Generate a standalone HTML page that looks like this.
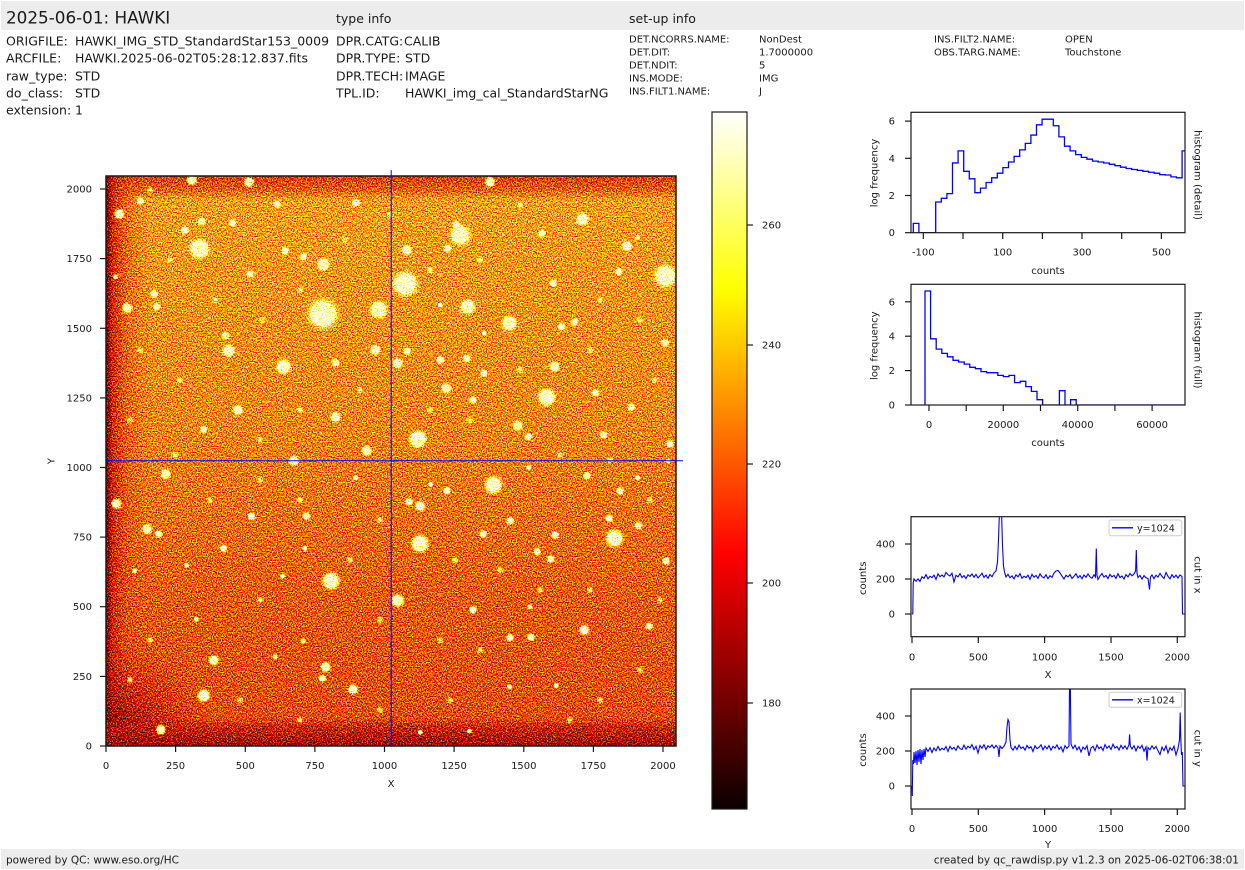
<!DOCTYPE html>
<html><head><meta charset="utf-8"><style>
html,body{margin:0;padding:0;background:#fff;}
svg{display:block;}
text{font-family:"DejaVu Sans","Liberation Sans",sans-serif;fill:#1a1a1a;}
.t{font-size:10px;}
.i{font-size:12.5px;}
.s{font-size:10px;}
.f{font-size:10.5px;}
</style></head><body>
<svg width="1245" height="870" viewBox="0 0 1245 870" xmlns="http://www.w3.org/2000/svg">
<defs>
<filter id="hot" x="106" y="176" width="570" height="570" filterUnits="userSpaceOnUse" color-interpolation-filters="sRGB">
<feTurbulence type="fractalNoise" baseFrequency="0.8" numOctaves="2" seed="7" result="n"/>
<feColorMatrix in="n" type="matrix" values="1 0 0 0 0  1 0 0 0 0  1 0 0 0 0  0 0 0 0 1" result="ng"/>
<feComposite in="SourceGraphic" in2="ng" operator="arithmetic" k1="0" k2="1" k3="1.5" k4="-0.75" result="c"/>
<feComponentTransfer in="c">
<feFuncR type="table" tableValues="0 .137 .274 .411 .548 .685 .822 .959 1 1 1 1 1 1 1 1 1 1 1 1 1"/>
<feFuncG type="table" tableValues="0 0 0 0 0 0 0 0 .092 .223 .354 .486 .617 .748 .879 1 1 1 1 1 1"/>
<feFuncB type="table" tableValues="0 0 0 0 0 0 0 0 0 0 0 0 0 0 0 .016 .213 .409 .606 .803 1"/>
<feFuncA type="linear" slope="0" intercept="1"/>
</feComponentTransfer>
</filter>
<linearGradient id="vg" x1="0" y1="0" x2="0" y2="1">
<stop offset="0" stop-color="#9f9f9f"/><stop offset="0.45" stop-color="#909090"/><stop offset="0.75" stop-color="#7a7a7a"/><stop offset="1" stop-color="#717171"/>
</linearGradient>
<linearGradient id="lg" x1="0" y1="0" x2="1" y2="0">
<stop offset="0" stop-color="#262626" stop-opacity="1"/><stop offset="0.15" stop-color="#555" stop-opacity="0.9"/><stop offset="0.5" stop-color="#707070" stop-opacity="0.5"/><stop offset="1" stop-color="#777" stop-opacity="0"/>
</linearGradient>
<radialGradient id="bl" cx="106" cy="746" r="115" gradientUnits="userSpaceOnUse">
<stop offset="0" stop-color="#1a1a1a" stop-opacity="1"/><stop offset="0.45" stop-color="#404040" stop-opacity="0.6"/><stop offset="1" stop-color="#606060" stop-opacity="0"/>
</radialGradient>
<linearGradient id="bb" x1="0" y1="0" x2="0" y2="1">
<stop offset="0" stop-color="#505050" stop-opacity="0"/><stop offset="0.35" stop-color="#505050" stop-opacity="0.8"/><stop offset="1" stop-color="#3a3a3a" stop-opacity="1"/>
</linearGradient>
<linearGradient id="tb" x1="0" y1="0" x2="0" y2="1">
<stop offset="0" stop-color="#686868" stop-opacity="1"/><stop offset="0.6" stop-color="#6e6e6e" stop-opacity="0.7"/><stop offset="1" stop-color="#777" stop-opacity="0"/>
</linearGradient>
<radialGradient id="sg">
<stop offset="0" stop-color="#fff"/><stop offset="0.6" stop-color="#fff"/><stop offset="0.8" stop-color="#fff" stop-opacity="0.35"/><stop offset="1" stop-color="#fff" stop-opacity="0"/>
</radialGradient>
<radialGradient id="sf">
<stop offset="0" stop-color="#fff" stop-opacity="0.8"/><stop offset="0.5" stop-color="#fff" stop-opacity="0.5"/><stop offset="1" stop-color="#fff" stop-opacity="0"/>
</radialGradient>
<linearGradient id="cb" x1="0" y1="0" x2="0" y2="1">
<stop offset="0" stop-color="#ffffff"/><stop offset="0.254" stop-color="#ffff00"/><stop offset="0.635" stop-color="#ff0000"/><stop offset="1" stop-color="#0b0000"/>
</linearGradient>
<clipPath id="c1"><rect x="911" y="112.3" width="274" height="120.4"/></clipPath>
<clipPath id="c2"><rect x="911" y="284.3" width="274" height="120.7"/></clipPath>
<clipPath id="c3"><rect x="911" y="516.7" width="274" height="120"/></clipPath>
<clipPath id="c4"><rect x="911" y="689" width="274" height="120"/></clipPath>
</defs>

<!-- header -->
<rect x="1" y="1" width="1243" height="29" fill="#ececec"/>
<text x="6" y="23.5" style="font-size:16.8px">2025-06-01: HAWKI</text>
<text class="i" x="336" y="23">type info</text>
<text class="i" x="629" y="23">set-up info</text>

<text class="i" x="6" y="45.5">ORIGFILE:</text><text class="i" x="75" y="45.5">HAWKI_IMG_STD_StandardStar153_0009</text>
<text class="i" x="6" y="62.5">ARCFILE:</text><text class="i" x="75" y="62.5">HAWKI.2025-06-02T05:28:12.837.fits</text>
<text class="i" x="6" y="80.5">raw_type:</text><text class="i" x="75" y="80.5">STD</text>
<text class="i" x="6" y="97.5">do_class:</text><text class="i" x="75" y="97.5">STD</text>
<text class="i" x="6" y="114.5">extension:</text><text class="i" x="75" y="114.5">1</text>

<text class="i" x="336" y="45.5">DPR.CATG:</text><text class="i" x="404" y="45.5">CALIB</text>
<text class="i" x="336" y="62.5">DPR.TYPE:</text><text class="i" x="405" y="62.5">STD</text>
<text class="i" x="336" y="80.5">DPR.TECH:</text><text class="i" x="405" y="80.5">IMAGE</text>
<text class="i" x="336" y="97.5">TPL.ID:</text><text class="i" x="405" y="97.5">HAWKI_img_cal_StandardStarNG</text>

<text class="s" x="629" y="42.5">DET.NCORRS.NAME:</text><text class="s" x="759" y="42.5">NonDest</text>
<text class="s" x="629" y="55.5">DET.DIT:</text><text class="s" x="759" y="55.5">1.7000000</text>
<text class="s" x="629" y="68.5">DET.NDIT:</text><text class="s" x="759" y="68.5">5</text>
<text class="s" x="629" y="81.5">INS.MODE:</text><text class="s" x="759" y="81.5">IMG</text>
<text class="s" x="629" y="94.5">INS.FILT1.NAME:</text><text class="s" x="759" y="94.5">J</text>
<text class="s" x="934" y="42.5">INS.FILT2.NAME:</text><text class="s" x="1065" y="42.5">OPEN</text>
<text class="s" x="934" y="55.5">OBS.TARG.NAME:</text><text class="s" x="1065" y="55.5">Touchstone</text>

<!-- main image -->
<g filter="url(#hot)">
<rect x="106" y="176" width="570" height="570" fill="url(#vg)"/>
<rect x="106" y="176" width="570" height="24" fill="url(#tb)"/>
<rect x="106" y="176" width="45" height="570" fill="url(#lg)"/>
<rect x="106" y="600" width="130" height="146" fill="url(#bl)"/>
<rect x="106" y="718" width="570" height="28" fill="url(#bb)"/>
<g fill="url(#sf)">
<circle cx="150" cy="190" r="4"/><circle cx="170" cy="260" r="4"/><circle cx="215" cy="300" r="4"/><circle cx="262" cy="320" r="4"/><circle cx="300" cy="290" r="4"/><circle cx="345" cy="240" r="4"/><circle cx="390" cy="215" r="4"/><circle cx="430" cy="270" r="4"/><circle cx="480" cy="260" r="4"/><circle cx="520" cy="205" r="4"/><circle cx="600" cy="300" r="4"/><circle cx="640" cy="320" r="4"/><circle cx="655" cy="380" r="4"/><circle cx="590" cy="350" r="4"/><circle cx="520" cy="370" r="4"/><circle cx="470" cy="420" r="4"/><circle cx="430" cy="410" r="4"/><circle cx="360" cy="390" r="4"/><circle cx="300" cy="410" r="4"/><circle cx="260" cy="440" r="4"/><circle cx="180" cy="380" r="4"/><circle cx="140" cy="350" r="4"/><circle cx="130" cy="420" r="4"/><circle cx="175" cy="455" r="4"/><circle cx="610" cy="460" r="4"/><circle cx="560" cy="455" r="4"/><circle cx="650" cy="500" r="4"/><circle cx="590" cy="590" r="4"/><circle cx="540" cy="590" r="4"/><circle cx="480" cy="650" r="4"/><circle cx="440" cy="640" r="4"/><circle cx="380" cy="620" r="4"/><circle cx="350" cy="560" r="4"/><circle cx="260" cy="600" r="4"/><circle cx="240" cy="700" r="4"/><circle cx="150" cy="640" r="4"/><circle cx="130" cy="680" r="4"/><circle cx="300" cy="720" r="4"/><circle cx="380" cy="710" r="4"/><circle cx="450" cy="700" r="4"/><circle cx="600" cy="700" r="4"/><circle cx="640" cy="670" r="4"/><circle cx="660" cy="600" r="4"/><circle cx="570" cy="720" r="4"/><circle cx="500" cy="570" r="4"/><circle cx="455" cy="560" r="4"/><circle cx="260" cy="480" r="4"/><circle cx="210" cy="500" r="4"/><circle cx="380" cy="520" r="4"/><circle cx="300" cy="500" r="4"/>
</g>
<g fill="url(#sg)">
<circle cx="322.8" cy="314" r="18"/><circle cx="405.2" cy="284" r="15"/><circle cx="665.3" cy="276" r="13.5"/><circle cx="460.4" cy="235.3" r="12"/><circle cx="199.6" cy="248.7" r="12"/><circle cx="378.7" cy="310" r="10.5"/><circle cx="467.5" cy="306.7" r="9"/><circle cx="509.3" cy="323.3" r="9"/><circle cx="546.6" cy="397.3" r="10.5"/><circle cx="417.9" cy="439.3" r="10.5"/><circle cx="283.6" cy="366.7" r="9"/><circle cx="582.5" cy="219.3" r="7.5"/><circle cx="626.9" cy="246" r="6"/><circle cx="119.4" cy="214" r="6"/><circle cx="323.5" cy="264.3" r="7.5"/><circle cx="407.1" cy="250" r="6"/><circle cx="228.7" cy="350.7" r="7.5"/><circle cx="375.4" cy="350" r="6"/><circle cx="335.4" cy="417.3" r="6"/><circle cx="366.8" cy="450.7" r="6"/><circle cx="446.3" cy="388.3" r="6"/><circle cx="517.9" cy="425.7" r="6"/><circle cx="127.2" cy="308" r="6"/><circle cx="248.9" cy="182" r="6"/><circle cx="191.8" cy="180" r="6"/><circle cx="489.9" cy="182" r="6"/><circle cx="140.3" cy="200.7" r="4.5"/><circle cx="201.5" cy="221.3" r="4.5"/><circle cx="185" cy="230" r="4.5"/><circle cx="232.5" cy="222.7" r="4.5"/><circle cx="277.2" cy="204" r="4.5"/><circle cx="356" cy="202.7" r="4.5"/><circle cx="285.1" cy="250.7" r="4.5"/><circle cx="303.4" cy="256.7" r="4.5"/><circle cx="456.3" cy="224.7" r="4.5"/><circle cx="238" cy="410" r="6"/><circle cx="397.8" cy="363.3" r="6"/><circle cx="407.1" cy="351" r="4.5"/><circle cx="440.3" cy="360" r="4.5"/><circle cx="466.8" cy="358.7" r="4.5"/><circle cx="595.5" cy="392.7" r="4.5"/><circle cx="554.5" cy="366.7" r="6"/><circle cx="574.6" cy="321.7" r="4.5"/><circle cx="561.6" cy="326.7" r="4.5"/><circle cx="665" cy="343" r="4.5"/><circle cx="631.3" cy="407.3" r="4.5"/><circle cx="603.7" cy="435" r="4.5"/><circle cx="670" cy="444" r="4.5"/><circle cx="335.8" cy="362.7" r="4.5"/><circle cx="250.4" cy="274" r="4.5"/><circle cx="156.7" cy="306.7" r="4.5"/><circle cx="154.1" cy="294" r="4.5"/><circle cx="115.7" cy="276.7" r="3"/><circle cx="553.4" cy="283.3" r="4.5"/><circle cx="618.7" cy="271.7" r="4.5"/><circle cx="225.7" cy="335.7" r="4.5"/><circle cx="203.7" cy="429.3" r="4.5"/><circle cx="528.4" cy="436.7" r="4.5"/><circle cx="294" cy="460.7" r="6"/><circle cx="447.8" cy="248.3" r="4.5"/><circle cx="541.8" cy="233.3" r="4.5"/><circle cx="637.7" cy="237.3" r="3"/><circle cx="484" cy="373.3" r="4.5"/><circle cx="440.3" cy="305" r="3"/><circle cx="484.3" cy="333.3" r="3"/><circle cx="473.1" cy="400" r="4.5"/>
<circle cx="331" cy="581" r="10.5"/><circle cx="420.1" cy="543.7" r="10.5"/><circle cx="493.3" cy="485" r="10.5"/><circle cx="614.6" cy="538.3" r="10.5"/><circle cx="397.8" cy="600.7" r="7.5"/><circle cx="203.7" cy="695.7" r="7.5"/><circle cx="160.8" cy="729.7" r="6"/><circle cx="165.7" cy="474" r="6"/><circle cx="116.4" cy="503.7" r="6"/><circle cx="147" cy="529" r="6"/><circle cx="158.6" cy="534" r="4.5"/><circle cx="213.8" cy="660.3" r="6"/><circle cx="325.7" cy="667" r="6"/><circle cx="322.4" cy="678.3" r="4.5"/><circle cx="353" cy="689.3" r="6"/><circle cx="409" cy="501.7" r="4.5"/><circle cx="420.1" cy="506" r="6"/><circle cx="447" cy="490.7" r="4.5"/><circle cx="584.3" cy="630" r="6"/><circle cx="649.3" cy="626" r="4.5"/><circle cx="666" cy="561" r="4.5"/><circle cx="638.4" cy="525.7" r="4.5"/><circle cx="620.1" cy="491" r="4.5"/><circle cx="587" cy="475.7" r="4.5"/><circle cx="555.2" cy="535" r="4.5"/><circle cx="550.7" cy="559" r="4.5"/><circle cx="537.3" cy="551.7" r="4.5"/><circle cx="531" cy="637.3" r="4.5"/><circle cx="510" cy="637.7" r="4.5"/><circle cx="473.1" cy="609.7" r="4.5"/><circle cx="483.2" cy="534" r="4.5"/><circle cx="510.4" cy="521" r="4.5"/><circle cx="609.3" cy="518.3" r="4.5"/><circle cx="306.7" cy="516" r="4.5"/><circle cx="251.5" cy="516.3" r="4.5"/><circle cx="223.5" cy="548.3" r="4.5"/><circle cx="304.9" cy="548.3" r="3"/><circle cx="282.5" cy="576.3" r="3"/><circle cx="196.3" cy="619.3" r="3"/><circle cx="303.4" cy="641" r="3"/><circle cx="275" cy="657" r="3"/><circle cx="355.6" cy="477.7" r="3"/><circle cx="134.7" cy="571" r="3"/><circle cx="186.6" cy="565" r="3"/><circle cx="430.6" cy="484.3" r="3"/><circle cx="528.7" cy="467.3" r="3"/><circle cx="637.7" cy="477.7" r="3"/><circle cx="667.9" cy="461" r="3"/><circle cx="556" cy="685.7" r="3"/><circle cx="509.7" cy="686.7" r="3"/><circle cx="469.4" cy="731" r="3"/><circle cx="420.1" cy="732.3" r="3"/><circle cx="529.9" cy="606.7" r="3"/>
</g>
</g>
<rect x="106" y="176" width="570" height="570" fill="none" stroke="#1a1a1a" stroke-width="1.5"/>
<line x1="391.2" y1="170" x2="391.2" y2="746" stroke="#0000ff" stroke-width="1"/>
<line x1="106" y1="460.8" x2="683" y2="460.8" stroke="#0000ff" stroke-width="1"/>
<g stroke="#1a1a1a" stroke-width="1.2">
<line x1="106" y1="746" x2="106" y2="752"/><line x1="175.6" y1="746" x2="175.6" y2="752"/><line x1="245.3" y1="746" x2="245.3" y2="752"/><line x1="314.9" y1="746" x2="314.9" y2="752"/><line x1="384.5" y1="746" x2="384.5" y2="752"/><line x1="454.1" y1="746" x2="454.1" y2="752"/><line x1="523.8" y1="746" x2="523.8" y2="752"/><line x1="593.4" y1="746" x2="593.4" y2="752"/><line x1="663" y1="746" x2="663" y2="752"/>
<line x1="100" y1="746" x2="106" y2="746"/><line x1="100" y1="676.4" x2="106" y2="676.4"/><line x1="100" y1="606.7" x2="106" y2="606.7"/><line x1="100" y1="537.1" x2="106" y2="537.1"/><line x1="100" y1="467.5" x2="106" y2="467.5"/><line x1="100" y1="397.9" x2="106" y2="397.9"/><line x1="100" y1="328.3" x2="106" y2="328.3"/><line x1="100" y1="258.6" x2="106" y2="258.6"/><line x1="100" y1="189" x2="106" y2="189"/>
</g>
<g class="t" text-anchor="middle">
<text x="106" y="769">0</text><text x="175.6" y="769">250</text><text x="245.3" y="769">500</text><text x="314.9" y="769">750</text><text x="384.5" y="769">1000</text><text x="454.1" y="769">1250</text><text x="523.8" y="769">1500</text><text x="593.4" y="769">1750</text><text x="663" y="769">2000</text>
<text x="391" y="787">X</text>
</g>
<g class="t" text-anchor="end">
<text x="92" y="749.5">0</text><text x="92" y="679.9">250</text><text x="92" y="610.2">500</text><text x="92" y="540.6">750</text><text x="92" y="471">1000</text><text x="92" y="401.4">1250</text><text x="92" y="331.8">1500</text><text x="92" y="262.1">1750</text><text x="92" y="192.5">2000</text>
</g>
<text class="t" x="52" y="461" text-anchor="middle" dominant-baseline="central" transform="rotate(-90 52 461)">Y</text>

<!-- colorbar -->
<rect x="712" y="112" width="35" height="697" fill="url(#cb)" stroke="#1a1a1a" stroke-width="1.2"/>
<g stroke="#1a1a1a" stroke-width="1.2">
<line x1="747" y1="225" x2="753" y2="225"/><line x1="747" y1="345" x2="753" y2="345"/><line x1="747" y1="464" x2="753" y2="464"/><line x1="747" y1="583" x2="753" y2="583"/><line x1="747" y1="703" x2="753" y2="703"/>
</g>
<g class="t">
<text x="762" y="228.5">260</text><text x="762" y="348.5">240</text><text x="762" y="467.5">220</text><text x="762" y="586.5">200</text><text x="762" y="706.5">180</text>
</g>

<!-- histogram detail -->
<path clip-path="url(#c1)" fill="none" stroke="#0000ff" stroke-width="1.3" d="M913.3,232.7 V223.4 H918.9 V232.7 H935.7 V202 H941.3 V198.3 H946.9 V193.6 H952.5 V162.95 H958.1 V150.9 H963.7 V171.3 H969.3 V178.8 H974.9 V192.7 H980.5 V188.1 H986.1 V182.5 H991.7 V177.8 H997.3 V173.2 H1002.9 V167.6 H1008.5 V162 H1014.1 V156.4 H1019.7 V149.9 H1025.3 V143.4 H1030.9 V135.05 H1036.5 V124.8 H1042.1 V119.2 H1053.3 V125.75 H1058.9 V136.9 H1064.5 V146.2 H1070.1 V150.9 H1075.7 V154.6 H1081.3 V157.4 H1086.9 V159.2 H1092.5 V161.1 H1098.1 V162 H1103.7 V163 H1109.3 V164.3 H1114.9 V165.7 H1120.5 V167.2 H1126.1 V168.5 H1131.7 V169.5 H1137.3 V170.4 H1142.9 V171.3 H1148.5 V172.25 H1154.1 V173.2 H1159.7 V174.7 H1165.3 V175 H1170.9 V176.9 H1176.5 V177.8 H1182.1 V150.9 H1186"/>
<rect x="911" y="112.3" width="274" height="120.4" fill="none" stroke="#1a1a1a" stroke-width="1.2"/>
<g stroke="#1a1a1a" stroke-width="1.2">
<line x1="905" y1="232.7" x2="911" y2="232.7"/><line x1="905" y1="195.5" x2="911" y2="195.5"/><line x1="905" y1="158.3" x2="911" y2="158.3"/><line x1="905" y1="121.1" x2="911" y2="121.1"/>
<line x1="923.3" y1="232.7" x2="923.3" y2="239"/><line x1="963" y1="232.7" x2="963" y2="239"/><line x1="1002.7" y1="232.7" x2="1002.7" y2="239"/><line x1="1042.4" y1="232.7" x2="1042.4" y2="239"/><line x1="1082" y1="232.7" x2="1082" y2="239"/><line x1="1121.7" y1="232.7" x2="1121.7" y2="239"/><line x1="1161.4" y1="232.7" x2="1161.4" y2="239"/>
</g>
<g class="t" text-anchor="end"><text x="895" y="236.2">0</text><text x="895" y="199">2</text><text x="895" y="161.8">4</text><text x="895" y="124.6">6</text></g>
<g class="t" text-anchor="middle"><text x="923.3" y="255.5">-100</text><text x="1002.7" y="255.5">100</text><text x="1082" y="255.5">300</text><text x="1161.4" y="255.5">500</text><text x="1048" y="274">counts</text></g>
<text class="t" x="875" y="173" text-anchor="middle" dominant-baseline="central" transform="rotate(-90 875 173)">log frequency</text>
<text class="t" x="1197" y="175" text-anchor="middle" dominant-baseline="central" transform="rotate(90 1197 175)">histogram (detail)</text>

<!-- histogram full -->
<path clip-path="url(#c2)" fill="none" stroke="#0000ff" stroke-width="1.3" d="M925,405 V291 H930.6 V338.8 H936.2 V349.1 H941.8 V353.4 H947.4 V356.8 H953 V360.3 H958.6 V362 H964.2 V364.1 H969.8 V367.3 H975.4 V368.7 H981 V371.6 H986.6 V372.7 H997.8 V375.4 H1003.4 V376.6 H1009 V375.4 H1014.6 V382.6 H1020.2 V381.3 H1025.8 V386.6 H1031.4 V391.4 H1037 V399.7 H1042.6 V405 H1059.4 V390.7 H1065 V405 H1070.6 V399.7 H1076.2 V405 H1186"/>
<rect x="911" y="284.3" width="274" height="120.7" fill="none" stroke="#1a1a1a" stroke-width="1.2"/>
<g stroke="#1a1a1a" stroke-width="1.2">
<line x1="905" y1="405" x2="911" y2="405"/><line x1="905" y1="370.6" x2="911" y2="370.6"/><line x1="905" y1="336.2" x2="911" y2="336.2"/><line x1="905" y1="301.8" x2="911" y2="301.8"/>
<line x1="929" y1="405" x2="929" y2="411"/><line x1="966.2" y1="405" x2="966.2" y2="411"/><line x1="1003.3" y1="405" x2="1003.3" y2="411"/><line x1="1040.5" y1="405" x2="1040.5" y2="411"/><line x1="1077.7" y1="405" x2="1077.7" y2="411"/><line x1="1114.9" y1="405" x2="1114.9" y2="411"/><line x1="1152.1" y1="405" x2="1152.1" y2="411"/>
</g>
<g class="t" text-anchor="end"><text x="895" y="408.5">0</text><text x="895" y="374.1">2</text><text x="895" y="339.7">4</text><text x="895" y="305.3">6</text></g>
<g class="t" text-anchor="middle"><text x="929" y="428">0</text><text x="1003.3" y="428">20000</text><text x="1077.7" y="428">40000</text><text x="1152.1" y="428">60000</text><text x="1048" y="446">counts</text></g>
<text class="t" x="875" y="345.7" text-anchor="middle" dominant-baseline="central" transform="rotate(-90 875 345.7)">log frequency</text>
<text class="t" x="1197" y="350" text-anchor="middle" dominant-baseline="central" transform="rotate(90 1197 350)">histogram (full)</text>

<!-- cut in x -->
<polyline clip-path="url(#c3)" fill="none" stroke="#0000ff" stroke-width="1.1" points="912,614 912.8,614 913.2,583 914,578.9 916,581.3 918,578.9 920,581.4 922,576.8 924,578.4 926,574.6 928,578.8 930,576.2 932,577.6 934,575.1 936,579.4 938,573.8 940,576.7 942,575 944,576.9 946,572.4 948,574.7 950,576 952,573.2 954,582 956,575.2 958,576.9 960,573.6 962,577.6 964,575.6 966,578.6 968,574.8 970,576.5 972,574 974,577.2 976,574.4 978,578 980,575.8 982,573.2 984,577.4 986,575.1 988,578.3 990,574.5 992,576.8 994,572.9 996,571 997.5,562 998.5,540 999.5,510 1000.5,505 1001.5,510 1002.5,545 1003.5,566 1004.5,572 1006,577 1008,574.4 1010,577.8 1012,575.9 1014,578.9 1016,574.8 1018,576.9 1020,573.6 1022,578.3 1024,576.2 1026,577.6 1028,575.1 1030,579.4 1032,574.3 1034,577.2 1036,575.5 1038,578.4 1040,573.9 1042,576.7 1044,578 1046,574.7 1048,578.7 1050,575.7 1052,577.4 1054,573.1 1056,571 1058,570.5 1060,573 1062,576.1 1064,579.1 1066,575.3 1068,577 1070,574.5 1072,578.5 1074,576.3 1076,573.7 1078,577.9 1080,575.6 1082,578.8 1084,575 1086,577.3 1088,574 1090,576.9 1092,578.2 1094,574.8 1095.5,577 1096.3,548.5 1097,575 1098,579.5 1100,576 1102,573.5 1104,577.2 1106,575.5 1108,578.6 1110,574.3 1112,577 1114,575.3 1116,578.4 1118,573.7 1120,577.5 1122,576 1124,579 1126,574.6 1128,576.9 1130,573.5 1132,575.8 1134,574 1135.6,571 1136.3,550 1137,573 1138,577.5 1140,575.4 1142,579.1 1144,575.6 1146,577.8 1148,578.4 1149.5,589.5 1150.5,577 1152,574.9 1154,578.7 1156,575.2 1158,577.1 1160,573.3 1162,576.4 1164,578.5 1166,572.5 1168,576.3 1170,578.8 1172,574.7 1174,577.6 1176,575.2 1178,578.1 1180,574.9 1182,576.5 1182.5,614 1186,614"/>
<rect x="911" y="516.7" width="274" height="120" fill="none" stroke="#1a1a1a" stroke-width="1.2"/>
<rect x="1109" y="520" width="72.7" height="15.7" rx="2" fill="#fff" fill-opacity="0.8" stroke="#cccccc" stroke-width="1"/>
<line x1="1112" y1="527.8" x2="1133" y2="527.8" stroke="#0000ff" stroke-width="1.3"/>
<text class="t" x="1137" y="531.3" style="font-size:9.5px">y=1024</text>
<g stroke="#1a1a1a" stroke-width="1.2">
<line x1="905" y1="614" x2="911" y2="614"/><line x1="905" y1="579" x2="911" y2="579"/><line x1="905" y1="544" x2="911" y2="544"/>
<line x1="912" y1="636.7" x2="912" y2="643"/><line x1="978.3" y1="636.7" x2="978.3" y2="643"/><line x1="1044.6" y1="636.7" x2="1044.6" y2="643"/><line x1="1111" y1="636.7" x2="1111" y2="643"/><line x1="1177.3" y1="636.7" x2="1177.3" y2="643"/>
</g>
<g class="t" text-anchor="end"><text x="895" y="617.5">0</text><text x="895" y="582.5">200</text><text x="895" y="547.5">400</text></g>
<g class="t" text-anchor="middle"><text x="912" y="660.5">0</text><text x="978.3" y="660.5">500</text><text x="1044.6" y="660.5">1000</text><text x="1111" y="660.5">1500</text><text x="1177.3" y="660.5">2000</text><text x="1048" y="678">X</text></g>
<text class="t" x="863.3" y="578.3" text-anchor="middle" dominant-baseline="central" transform="rotate(-90 863.3 578.3)">counts</text>
<text class="t" x="1197" y="575" text-anchor="middle" dominant-baseline="central" transform="rotate(90 1197 575)">cut in x</text>

<!-- cut in y -->
<polyline clip-path="url(#c4)" fill="none" stroke="#0000ff" stroke-width="1.1" points="912,786 912.3,796 912.8,760 913.5,764 914,752 915,763 916,751 917,765 918,750 919,762 920,749 921,764 922,750 923,760 924,749 925,757 926,748 928,751.5 930,747.8 932,752.5 934,748 936,750.8 938,746.5 940,750.3 942,748.2 944,749.8 946,746.6 948,751.4 950,746.3 952,749.2 954,747.5 956,750.4 958,745.9 960,748.7 962,749.5 964,745.2 966,749.2 968,746.2 970,747.9 972,744.6 974,749.6 976,746.2 978,753 980,745.5 982,748.2 984,744.7 986,749.6 988,745.8 990,747.5 992,745 994,748.2 996,745.4 998,747.8 999,757 1000,746 1002,748.5 1004,746.2 1006,742 1007,727 1008,719.5 1009,722 1010,740 1011,747.5 1013,750.2 1015,746.3 1017,749.6 1019,745.1 1021,748.4 1023,746.9 1025,750.1 1027,745.4 1029,748.3 1031,746.7 1033,751.5 1035,745.8 1037,748.6 1039,747.3 1041,744.8 1043,749.8 1045,746.1 1047,748.9 1049,745.6 1051,750.2 1053,746.4 1055,748.2 1057,744.9 1059,749.4 1061,746.9 1063,751.8 1065,745.7 1067,748.4 1069,746 1069.6,680 1070.3,680 1071,744 1073,748.6 1075,745.2 1077,749.9 1079,746.8 1081,752 1083,747.1 1085,749.3 1087,745.7 1089,756 1091,748 1093,746.3 1095,750.7 1097,745 1099,748.6 1101,746.9 1103,750.5 1105,744.6 1107,748.3 1109,746 1111,749.5 1113,744.2 1115,748.1 1117,746.5 1119,750 1121,745.3 1123,748.7 1125,745.9 1127,749.4 1129,744.6 1129.6,734.4 1130.3,746 1132,749 1134,745.7 1136,750.9 1138,746.2 1140,748.5 1142,745.4 1144,751.2 1146,747 1147,760.6 1148,747.5 1150,749.7 1152,745.8 1154,748.9 1156,746.4 1158,750.8 1160,754.5 1162,747.2 1164,750.6 1166,745.9 1168,753 1170,747.6 1172,750.3 1174,746.2 1176,755 1178,748.6 1179.5,740 1180.2,712.5 1180.8,738 1181.5,755 1182.3,752 1183,786 1186,786"/>
<rect x="911" y="689" width="274" height="120" fill="none" stroke="#1a1a1a" stroke-width="1.2"/>
<rect x="1109" y="692.3" width="72.7" height="15" rx="2" fill="#fff" fill-opacity="0.8" stroke="#cccccc" stroke-width="1"/>
<line x1="1112" y1="699.8" x2="1133" y2="699.8" stroke="#0000ff" stroke-width="1.3"/>
<text class="t" x="1137" y="703.3" style="font-size:9.5px">x=1024</text>
<g stroke="#1a1a1a" stroke-width="1.2">
<line x1="905" y1="786" x2="911" y2="786"/><line x1="905" y1="751" x2="911" y2="751"/><line x1="905" y1="716" x2="911" y2="716"/>
<line x1="912" y1="809" x2="912" y2="815"/><line x1="978.3" y1="809" x2="978.3" y2="815"/><line x1="1044.6" y1="809" x2="1044.6" y2="815"/><line x1="1111" y1="809" x2="1111" y2="815"/><line x1="1177.3" y1="809" x2="1177.3" y2="815"/>
</g>
<g class="t" text-anchor="end"><text x="895" y="789.5">0</text><text x="895" y="754.5">200</text><text x="895" y="719.5">400</text></g>
<g class="t" text-anchor="middle"><text x="912" y="832">0</text><text x="978.3" y="832">500</text><text x="1044.6" y="832">1000</text><text x="1111" y="832">1500</text><text x="1177.3" y="832">2000</text><text x="1048" y="848">Y</text></g>
<text class="t" x="863.3" y="750" text-anchor="middle" dominant-baseline="central" transform="rotate(-90 863.3 750)">counts</text>
<text class="t" x="1197" y="748.3" text-anchor="middle" dominant-baseline="central" transform="rotate(90 1197 748.3)">cut in y</text>

<!-- footer -->
<rect x="1" y="849" width="1243" height="20" fill="#ececec"/>
<text class="f" x="6" y="863.5">powered by QC: www.eso.org/HC</text>
<text class="f" x="1239" y="863.5" text-anchor="end">created by qc_rawdisp.py v1.2.3 on 2025-06-02T06:38:01</text>
</svg>
</body></html>
